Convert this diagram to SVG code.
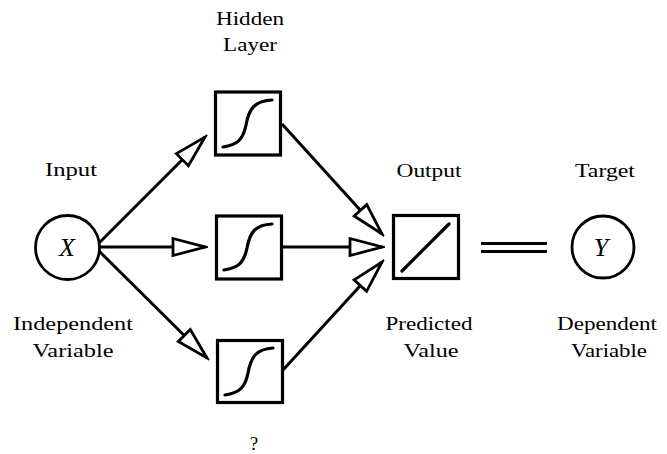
<svg xmlns="http://www.w3.org/2000/svg" width="667" height="454" viewBox="0 0 667 454">
<style>
  text { font-family: 'Liberation Serif', 'DejaVu Serif', serif; }
  .lbl { font-size: 19px; fill: #000; text-anchor: middle; }
  .var { font-size: 26px; font-style: italic; fill: #000; text-anchor: middle; }
  .node { fill: #fff; stroke: #000; stroke-width: 3.2; }
  .circ { fill: #fff; stroke: #000; stroke-width: 2.8; }
  .curve { fill: none; stroke: #000; stroke-width: 3.2; stroke-linecap: round; }
  .edge { fill: none; stroke: #000; stroke-width: 3; marker-end: url(#open); }
  .eq { stroke: #000; stroke-width: 3; }
</style>
<defs>
  <marker id="open" markerUnits="userSpaceOnUse" markerWidth="38" markerHeight="24" refX="32" refY="11" orient="auto" viewBox="-3 -1 38 24">
    <path d="M0,2.5 L32,11 L0,19.5 Z" fill="#fff" stroke="#000" stroke-width="2.8" stroke-linejoin="miter"/>
  </marker>
</defs>
<rect width="667" height="454" fill="#fff"/>

<g id="connectors">
  <line class="edge" x1="99" y1="243" x2="205" y2="137"/>
  <line class="edge" x1="100" y1="247" x2="205" y2="247"/>
  <line class="edge" x1="99" y1="251" x2="207" y2="358"/>
  <line class="edge" x1="282" y1="124" x2="382" y2="234"/>
  <line class="edge" x1="283" y1="247" x2="382" y2="247"/>
  <line class="edge" x1="283" y1="370" x2="382" y2="262"/>
  <line class="eq" x1="481" y1="243.5" x2="547" y2="243.5"/>
  <line class="eq" x1="481" y1="251.5" x2="547" y2="251.5"/>
</g>

<g id="input">
  <circle class="circ" cx="67.5" cy="247.5" r="32"/>
  <text class="var" x="67" y="256">X</text>
  <text class="lbl" x="71" y="176" textLength="52" lengthAdjust="spacingAndGlyphs">Input</text>
  <text class="lbl" x="73" y="330" textLength="120" lengthAdjust="spacingAndGlyphs">Independent</text>
  <text class="lbl" x="73" y="357" textLength="81" lengthAdjust="spacingAndGlyphs">Variable</text>
</g>

<g id="hidden-label">
  <text class="lbl" x="250" y="25" textLength="68" lengthAdjust="spacingAndGlyphs">Hidden</text>
  <text class="lbl" x="250" y="51" textLength="54" lengthAdjust="spacingAndGlyphs">Layer</text>
</g>

<g id="hidden1">
  <rect class="node" x="215.5" y="92" width="65" height="63"/>
  <path class="curve" d="M223,147 C237,145 243,140 246,125 C249,108 255,101 272,100"/>
</g>
<g id="hidden2">
  <rect class="node" x="216.5" y="216" width="65" height="63"/>
  <path class="curve" d="M224,270 C238,268 244,263 247,248 C250,231 256,225 272,224"/>
</g>
<g id="hidden3">
  <rect class="node" x="217.5" y="340.5" width="65" height="62"/>
  <path class="curve" d="M225,395 C239,393 245,388 248,373 C251,356 257,349 273,348"/>
  <text class="lbl" x="254" y="450">?</text>
</g>

<g id="output">
  <rect class="node" x="393.5" y="215.5" width="65" height="63"/>
  <line class="curve" x1="402" y1="271" x2="449" y2="224"/>
  <text class="lbl" x="429" y="177" textLength="65" lengthAdjust="spacingAndGlyphs">Output</text>
  <text class="lbl" x="429" y="330" textLength="87" lengthAdjust="spacingAndGlyphs">Predicted</text>
  <text class="lbl" x="431" y="357" textLength="55" lengthAdjust="spacingAndGlyphs">Value</text>
</g>

<g id="target">
  <circle class="circ" cx="603" cy="247" r="31"/>
  <text class="var" x="601" y="256">Y</text>
  <text class="lbl" x="605" y="177" textLength="60" lengthAdjust="spacingAndGlyphs">Target</text>
  <text class="lbl" x="607" y="330" textLength="100" lengthAdjust="spacingAndGlyphs">Dependent</text>
  <text class="lbl" x="609" y="357" textLength="76" lengthAdjust="spacingAndGlyphs">Variable</text>
</g>
</svg>
